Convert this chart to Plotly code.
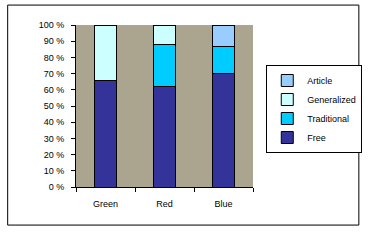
import plotly.graph_objects as go

categories = ["Green", "Red", "Blue"]
free = [66, 62, 70]
traditional = [0, 26, 17]
generalized = [34, 12, 0]
article = [0, 0, 13]
y_ticks = [0, 10, 20, 30, 40, 50, 60, 70, 80, 90, 100]
y_tick_labels = [f"{v} %" for v in y_ticks]

series = [
    ("Free", free, "#333399"),
    ("Traditional", traditional, "#00CCFF"),
    ("Generalized", generalized, "#CCFFFF"),
    ("Article", article, "#99CCFF"),
]

fig = go.Figure()
for name, vals, color in series:
    fig.add_trace(go.Bar(
        x=categories, y=vals, name=name,
        marker=dict(color=color, line=dict(color="black", width=1)),
    ))

font = dict(family="Arial, Liberation Sans, sans-serif", size=9, color="black")
fig.update_layout(
    width=374, height=244,
    margin=dict(l=76, r=114, t=25, b=57),
    barmode="stack", bargap=0.625,
    paper_bgcolor="white", plot_bgcolor="#ABA58F",
    font=font,
    showlegend=True,
    legend=dict(
        x=1.075, y=0.753, xanchor="left", yanchor="top",
        traceorder="reversed",
        bordercolor="black", borderwidth=1, bgcolor="white",
        font=font, itemwidth=30,
    ),
    xaxis=dict(
        showline=True, linecolor="black", linewidth=1,
        ticks="outside", ticklen=4, tickcolor="black",
        tickson="boundaries", ticklabelstandoff=8,
        showgrid=False,
    ),
    yaxis=dict(
        range=[0, 100], tickvals=y_ticks, ticktext=y_tick_labels,
        showline=True, linecolor="black", linewidth=1,
        ticks="outside", ticklen=4, tickcolor="black",
        ticklabelstandoff=5,
        showgrid=False, zeroline=False,
    ),
    shapes=[dict(
        type="rect", xref="paper", yref="paper",
        x0=-0.386, x1=1.598, y0=-0.235, y1=1.123,
        line=dict(color="black", width=1), fillcolor="rgba(0,0,0,0)",
        layer="below",
    )],
)

fig.write_html("out.html")
